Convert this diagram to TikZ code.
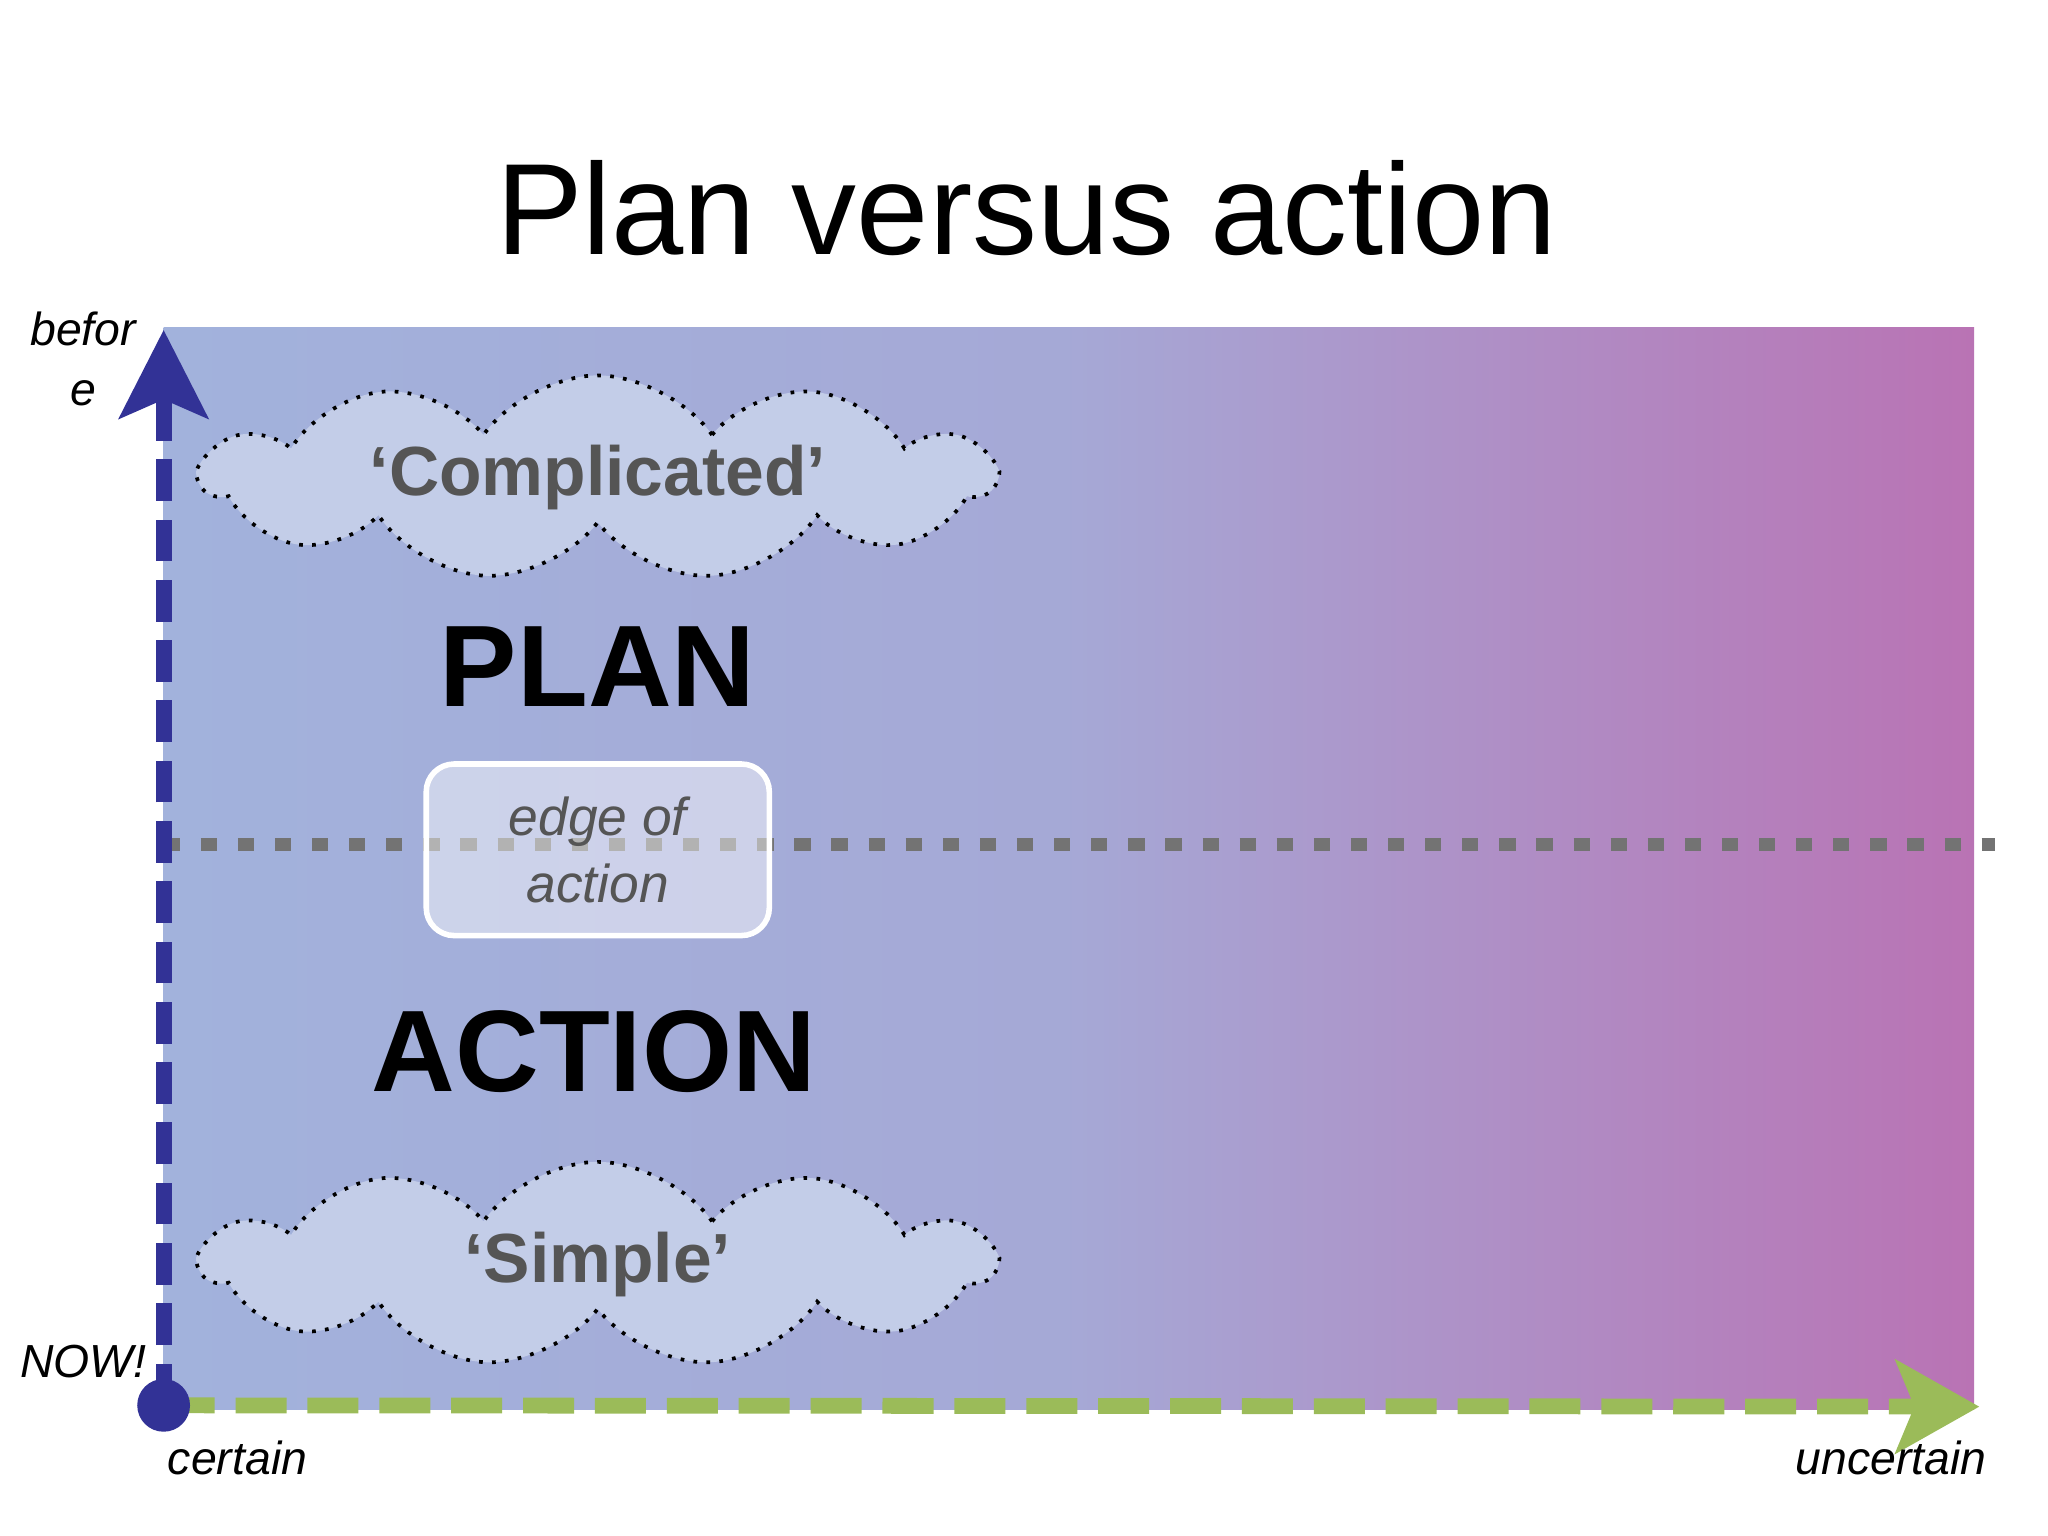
\documentclass[tikz,border=0pt]{standalone}
\usepackage{fontspec}
\setmainfont{Liberation Sans}
\usetikzlibrary{shapes.symbols,arrows.meta}
\definecolor{axisblue}{RGB}{50,50,150}
\definecolor{axisgreen}{RGB}{155,187,89}
\definecolor{bgblue}{RGB}{162,178,220}
\definecolor{bgpurple}{RGB}{185,115,180}
\definecolor{cloudfill}{RGB}{195,205,232}
\definecolor{textgray}{RGB}{85,85,85}
\tikzstyle{node:cloud}=[cloud,cloud puffs=11,cloud puff arc=110,aspect=4,draw,dotted,thick,fill=cloudfill,minimum width=6.0cm,minimum height=1.55cm]
\tikzstyle{node:cloudlabel}=[font=\bfseries\fontsize{15}{18}\selectfont,text=textgray]
\tikzstyle{node:big}=[font=\bfseries\fontsize{25}{30}\selectfont]
\tikzstyle{node:axislabel}=[font=\itshape\fontsize{10}{13}\selectfont,align=center]
\begin{document}
\begin{tikzpicture}
        \useasboundingbox (0,0) rectangle (15.52,11.64);
        % Background
        \fill[left color=bgblue,right color=bgpurple,middle color=bgblue!85!bgpurple] (1.24,0.96) rectangle (14.96,9.16);

        % Title
        \node[font=\fontsize{28}{34}\selectfont] (title) at (7.78,10.06) {Plan versus action};

        % Clouds
        \node[node:cloud] (complicated) at (4.53,8.02) {};
        \node[node:cloudlabel] at (complicated) {`Complicated'};
        \node[node:cloud] (simple) at (4.53,2.06) {};
        \node[node:cloudlabel] at (simple) {`Simple'};

        % Plan and action
        \node[node:big] (plan) at (4.53,6.59) {PLAN};
        \node[node:big] (action) at (4.50,3.67) {ACTION};

        % Edge line
        \coordinate (edgeL) at (1.24,5.24);
        \coordinate (edgeR) at (15.12,5.24);
        \draw[gray!90!black,line width=3pt,dash pattern=on 3.5pt off 4.5pt] (edgeL) -- (edgeR);
        \node[draw=white,very thick,rounded corners=6pt,fill=white,fill opacity=0.45,text opacity=1,minimum width=2.6cm,minimum height=1.3cm,align=center,font=\itshape\fontsize{11.5}{14.5}\selectfont,text=textgray] (edge) at (4.53,5.20) {edge of\\action};

        % Axes
        \coordinate (origin) at (1.24,0.99);
        \coordinate (top) at (1.24,9.14);
        \coordinate (right) at (15.00,0.98);
        \draw[axisblue,line width=3.4pt,dash pattern=on 9pt off 4pt,-{Stealth[width=19pt,length=19pt,inset=4pt]}] (origin) -- (top);
        \draw[axisgreen,line width=3.4pt,dash pattern=on 11pt off 4.5pt,-{Stealth[width=20pt,length=18pt,inset=4pt]}] (origin) -- (right);
        \fill[axisblue] (origin) circle (0.2);

        % Labels
        \node[node:axislabel] (before) at (0.63,8.92) {befor\\e};
        \node[node:axislabel] (now) at (0.63,1.32) {NOW!};
        \node[node:axislabel] (certain) at (1.80,0.59) {certain};
        \node[node:axislabel] (uncertain) at (14.33,0.59) {uncertain};
\end{tikzpicture}
\end{document}
